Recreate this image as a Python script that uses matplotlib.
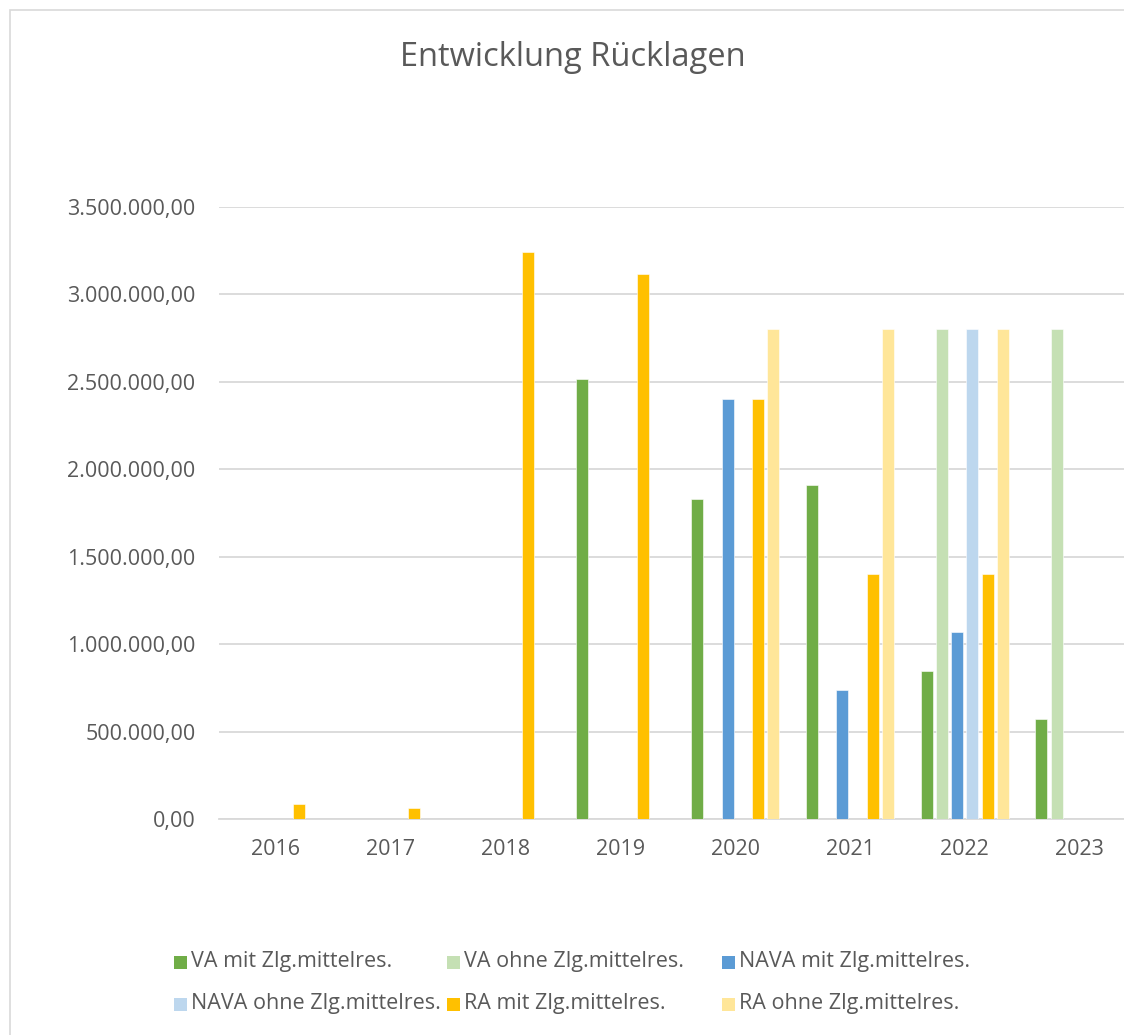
import matplotlib
matplotlib.use("Agg")
import matplotlib.pyplot as plt
import numpy as np
from matplotlib.ticker import FuncFormatter, MultipleLocator
from matplotlib.patches import Rectangle

plt.rcParams['font.family'] = ['Open Sans', 'DejaVu Sans']

years = ["2016", "2017", "2018", "2019", "2020", "2021", "2022", "2023"]
series_names = [
    "VA mit Zlg.mittelres.",
    "VA ohne Zlg.mittelres.",
    "NAVA mit Zlg.mittelres.",
    "NAVA ohne Zlg.mittelres.",
    "RA mit Zlg.mittelres.",
    "RA ohne Zlg.mittelres.",
]
va_mit = [0, 0, 0, 2515000, 1830000, 1910000, 848000, 570000]
va_ohne = [0, 0, 0, 0, 0, 0, 2800000, 2800000]
nava_mit = [0, 0, 0, 0, 2400000, 737000, 1070000, 0]
nava_ohne = [0, 0, 0, 0, 0, 0, 2800000, 0]
ra_mit = [89000, 63000, 3239000, 3115000, 2400000, 1400000, 1400000, 0]
ra_ohne = [0, 0, 0, 0, 2800000, 2800000, 2800000, 0]
series_values = [va_mit, va_ohne, nava_mit, nava_ohne, ra_mit, ra_ohne]
colors = ["#70AD47", "#C5E0B4", "#5B9BD5", "#BDD7EE", "#FFC000", "#FFE699"]

W, H = 1124, 1035
fig = plt.figure(figsize=(W / 100, H / 100), dpi=100)

# chart border (cropped on right/bottom)
fig.add_artist(Rectangle((10 / W, -0.1), 1.2, 1 - 10 / H + 0.1, transform=fig.transFigure,
                         fill=False, edgecolor="#D9D9D9", linewidth=1.2))

ax_left, ax_right = 218.5, 1137.0
ax_top, ax_bottom = 206.7, 819.2
ax = fig.add_axes([ax_left / W, 1 - ax_bottom / H, (ax_right - ax_left) / W, (ax_bottom - ax_top) / H])

x = np.arange(len(years))
slot = 15.3 / 114.8
bw = 12.0 / 114.8
for i, (vals, c) in enumerate(zip(series_values, colors)):
    ax.bar(x + (i - 2.5) * slot, vals, width=bw, color=c, edgecolor="white", linewidth=0.4, zorder=3)

ax.set_xlim(-0.5, len(years) - 0.5)
ax.set_ylim(0, 3500000)
ax.yaxis.set_major_locator(MultipleLocator(500000))

def de_fmt(v, pos):
    s = f"{v:,.2f}"
    return s.replace(",", "X").replace(".", ",").replace("X", ".")

ax.yaxis.set_major_formatter(FuncFormatter(de_fmt))
ax.set_xticks(x)
ax.set_xticklabels(years)
ax.grid(axis="y", color="#D9D9D9", linewidth=1.3, zorder=0)
for s in ["top", "right", "left"]:
    ax.spines[s].set_visible(False)
ax.spines["bottom"].set_color("#D9D9D9")
ax.spines["bottom"].set_linewidth(1.3)
ax.tick_params(axis="both", length=0, colors="#595959", labelsize=15.5)
ax.tick_params(axis="y", pad=16.5)
ax.tick_params(axis="x", pad=14)

fig.text(572.5 / W, 1 - 57 / H, "Entwicklung Rücklagen", ha="center", va="center",
         fontsize=23.5, color="#595959")

# legend
leg_pos = [(174, 962), (447, 962), (722, 962), (174, 1004), (447, 1004), (722, 1004)]
for (lx, ly), name, c in zip(leg_pos, series_names, colors):
    fig.add_artist(Rectangle((lx / W, 1 - (ly + 6.5) / H), 13 / W, 13 / H,
                             transform=fig.transFigure, facecolor=c, edgecolor="none"))
    fig.text((lx + 17) / W, 1 - ly / H, name, ha="left", va="center", fontsize=15.5, color="#595959")

fig.savefig("out.png", dpi=100)
